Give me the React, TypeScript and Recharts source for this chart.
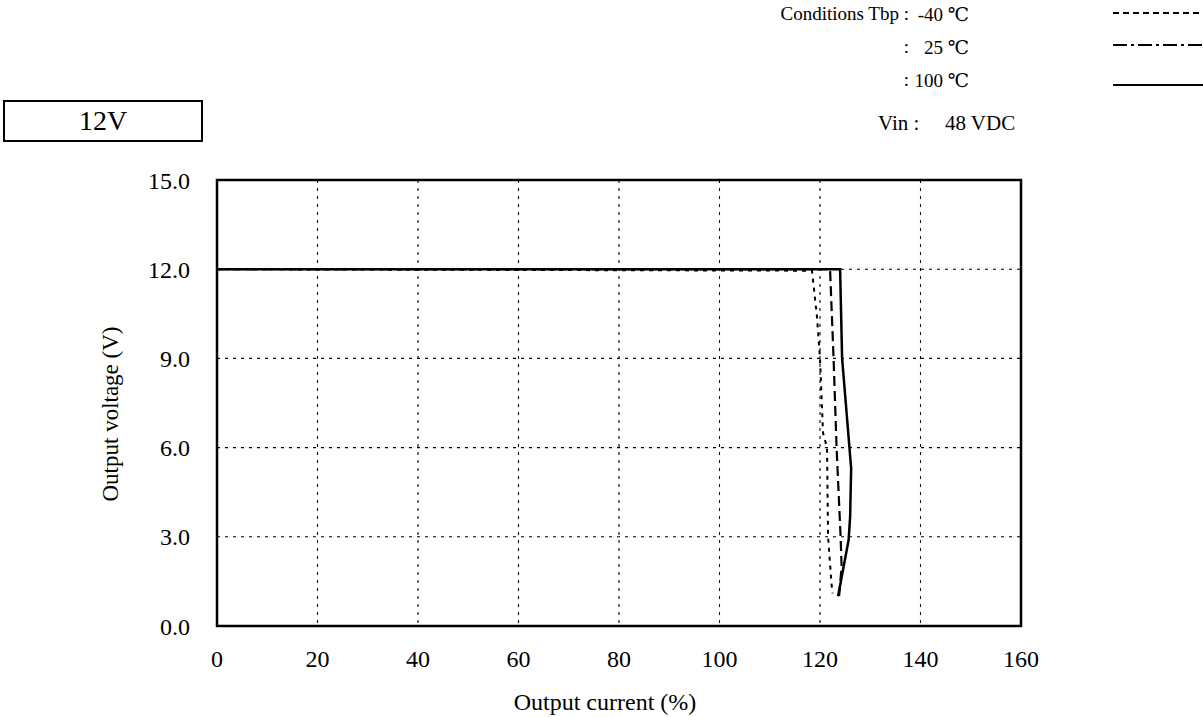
import { LineChart, Line, XAxis, YAxis, CartesianGrid, ReferenceArea } from 'recharts';

// Output current (%) / output voltage (V)
const minus40Current = [0, 118.4, 119.4, 120.0, 120.6, 121.4, 121.6, 122.3, 122.5];
const minus40Voltage = [12.0, 11.95, 10.4, 9.0, 6.5, 6.0, 3.0, 1.4, 1.1];

const room25Current = [0, 122.0, 122.7, 123.3, 124.1, 124.3, 123.8];
const room25Voltage = [12.0, 12.0, 9.0, 6.0, 3.0, 2.0, 1.0];

const hot100Current = [0, 124.0, 124.4, 126.2, 126.0, 125.7, 123.6];
const hot100Voltage = [12.0, 12.0, 9.0, 5.3, 3.7, 2.9, 1.0];

const xTicks = [0, 20, 40, 60, 80, 100, 120, 140, 160];
const yTicks = [0, 3, 6, 9, 12, 15];

const toPoints = (cur: number[], volt: number[]) => cur.map((c, k) => ({ i: c, v: volt[k] }));

const minus40 = toPoints(minus40Current, minus40Voltage);
const room25 = toPoints(room25Current, room25Voltage);
const hot100 = toPoints(hot100Current, hot100Voltage);

const serif = '"Liberation Serif", "DejaVu Serif", serif';

const legendRows = [
  { label: 'Conditions Tbp :', value: '-40 ℃', dash: '6 4', top: 3, lineY: 13 },
  { label: ':', value: '25 ℃', dash: '14 4 3 4', top: 36, lineY: 45 },
  { label: ':', value: '100 ℃', dash: '', top: 69, lineY: 85 },
];

export default function App() {
  return (
    <div style={{ position: 'absolute', left: 0, top: 0, width: 1203, height: 717, background: '#fff', fontFamily: serif, color: '#000' }}>
      <div style={{ position: 'absolute', left: 3, top: 100, width: 196, height: 38, border: '2px solid #000', fontSize: 28, lineHeight: '38px', textAlign: 'center' }}>
        12V
      </div>

      {legendRows.map((r) => (
        <div key={r.value}>
          <div style={{ position: 'absolute', right: 1203 - 909, top: r.top, fontSize: 19, whiteSpace: 'nowrap' }}>{r.label}</div>
          <div style={{ position: 'absolute', right: 1203 - 969, top: r.top, fontSize: 19, whiteSpace: 'nowrap' }}>{r.value}</div>
          <svg style={{ position: 'absolute', left: 1113, top: r.lineY - 6 }} width={90} height={12}>
            <line x1={0} y1={6} x2={90} y2={6} stroke="#000" strokeWidth={1.8} strokeDasharray={r.dash || undefined} />
          </svg>
        </div>
      ))}
      <div style={{ position: 'absolute', left: 878, top: 111, fontSize: 21, whiteSpace: 'nowrap' }}>Vin :</div>
      <div style={{ position: 'absolute', left: 945, top: 111, fontSize: 21, whiteSpace: 'nowrap' }}>48 VDC</div>

      <div style={{ position: 'absolute', left: 111, top: 414, transform: 'translate(-50%, -50%) rotate(-90deg)', fontSize: 23, whiteSpace: 'nowrap' }}>
        Output voltage (V)
      </div>
      <div style={{ position: 'absolute', left: 605, top: 702, transform: 'translate(-50%, -50%)', fontSize: 24, whiteSpace: 'nowrap' }}>
        Output current (%)
      </div>

      <LineChart width={1203} height={717} margin={{ top: 180, right: 182, bottom: 41, left: 147 }} style={{ position: 'absolute', left: 0, top: 0 }}>
        <CartesianGrid stroke="#000" strokeWidth={1.1} strokeDasharray="3 5" />
        <XAxis
          dataKey="i"
          type="number"
          domain={[0, 160]}
          ticks={xTicks}
          height={50}
          axisLine={false}
          tickLine={false}
          tickSize={0}
          tickMargin={24}
          tick={{ fill: '#000', fontSize: 24, fontFamily: serif }}
          allowDataOverflow
          interval={0}
        />
        <YAxis
          type="number"
          domain={[0, 15]}
          ticks={yTicks}
          width={70}
          axisLine={false}
          tickLine={false}
          tickSize={0}
          tickMargin={27}
          tickFormatter={(v: number) => v.toFixed(1)}
          tick={{ fill: '#000', fontSize: 24, fontFamily: serif }}
          allowDataOverflow
          interval={0}
        />
        <ReferenceArea x1={0} x2={160} y1={0} y2={15} fill="none" stroke="#000" strokeWidth={2.5} ifOverflow="visible" />
        <Line data={minus40} dataKey="v" type="linear" stroke="#000" strokeWidth={2} strokeDasharray="4 5" dot={false} isAnimationActive={false} />
        <Line data={room25} dataKey="v" type="linear" stroke="#000" strokeWidth={2.2} strokeDasharray="10 5" dot={false} isAnimationActive={false} />
        <Line data={hot100} dataKey="v" type="linear" stroke="#000" strokeWidth={2.5} dot={false} isAnimationActive={false} />
      </LineChart>
    </div>
  );
}
